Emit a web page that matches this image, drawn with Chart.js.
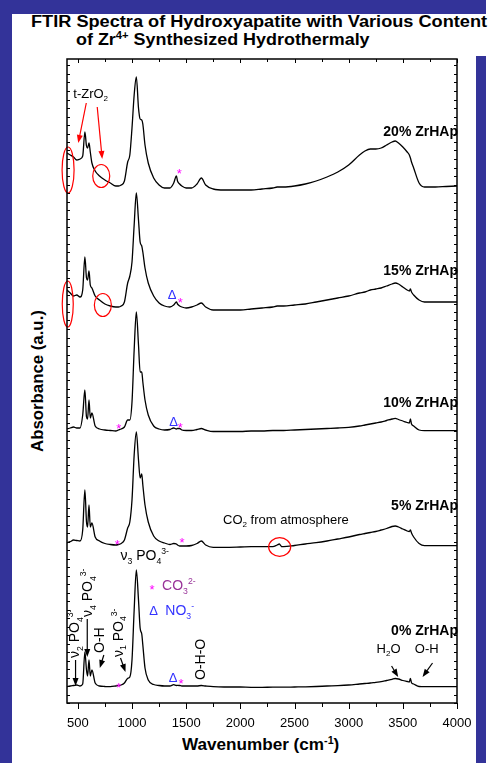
<!DOCTYPE html>
<html>
<head>
<meta charset="utf-8">
<script src="https://cdn.jsdelivr.net/npm/chart.js@4.4.0/dist/chart.umd.min.js"></script>
<style>
body{margin:0;background:#333399;width:490px;height:763px;overflow:hidden;position:relative;font-family:"Liberation Sans",Arial,sans-serif;}
#panel{position:absolute;left:12px;top:14px;width:464px;height:749px;background:#fff;}
#strip{position:absolute;left:486px;top:0;width:4px;height:763px;background:#fff;}
#titlebox{position:absolute;left:12px;top:14px;width:478px;height:42px;background:#fff;}
.t{position:absolute;font-weight:bold;color:#000;white-space:nowrap;transform-origin:0 0;}
#t1{left:31px;top:14px;font-size:16px;line-height:16px;transform:scaleX(1.135);}
#t2{left:76px;top:32px;font-size:16px;line-height:16px;transform:scaleX(1.12);}
#xt{left:182px;top:737px;font-size:16px;line-height:16px;transform:scaleX(1.07);}
#yt{left:30px;top:452px;font-size:16px;line-height:16px;transform:rotate(-90deg) scaleX(1.05);}
sup{font-size:10px;vertical-align:6px;line-height:0;}
canvas{position:absolute;left:0;top:0;}
</style>
</head>
<body>
<div id="panel"></div>
<div id="strip"></div>
<div id="titlebox"></div>
<div class="t" id="t1">FTIR Spectra of Hydroxyapatite with Various Content</div>
<div class="t" id="t2">of Zr<sup>4+</sup> Synthesized Hydrothermaly</div>
<div class="t" id="xt">Wavenumber (cm<sup>-1</sup>)</div>
<div class="t" id="yt">Absorbance (a.u.)</div>
<canvas id="ftir" width="490" height="763"></canvas>
<script>
// wavenumber grid (cm-1) shared by all spectra
var wavenumbers = [400,430,460,490,520,545,565,580,590,603,615,630,660,700,750,800,850,875,900,930,
  960,980,1000,1020,1040,1060,1075,1090,1100,1120,1150,1200,1250,1300,1350,1385,1410,1420,1440,1460,
  1500,1550,1600,1640,1680,1750,1850,2000,2100,2200,2300,2340,2360,2380,2400,2500,2600,2700,2800,2900,
  3000,3100,3150,3200,3250,3300,3350,3400,3430,3460,3500,3540,3560,3570,3580,3600,3650,3700,3800,3900,4000];

// stacked absorbance (a.u., offset per sample)
var zr0 = [16.3,17,17.5,18,17,19,51,33,27,43,27,33,20,17,16.5,16.3,17,17.5,18,20,
  24.7,26,43,93,133,103,75,69,58,35,23,18.5,17.5,17,17,18.3,17.5,17.7,17.5,17,
  17,17,17,17.5,17,16.3,16,16,15.7,15.7,15.8,15.8,15.8,15.8,15.8,16,16.2,16.5,17,17.4,
  18,19,19.5,20,20.7,21.3,22.5,23.7,24.5,24,22.5,21.5,21,24.7,20.3,19,16.5,16.3,16.3,16.3,16.3];
var zr5 = [160.3,161.3,163,162.5,162,173,213,181,176,198,176,180,166,162,159.5,158.5,158,158.5,159.5,163,
  175,181,203,248,271,243,225,229,218,198,181,167,162,160,158.5,159.5,159,158,157,157,
  157,157.5,159.5,162,158,155.7,155.7,156,156.3,156.3,156.3,158,159,156.5,156.3,157.5,159,160.3,162,164,
  166,168.5,169.5,170.5,171.5,173,174.5,176.5,177,176,174,172,171.5,173,170,166,159.5,157.3,157.3,157.3,157.3];
var zr10 = [274,275,276,275,275,288,313,286,284,303,285,290,277,274,273,272.5,272,273,274,276,
  283,283,301,353,391,358,331,331,321,303,288,277,274,273,273.5,275,274,274.5,274.5,273,
  272.5,272.5,273.5,274.5,273,271.5,271.5,271.5,272,272,272.5,272.5,272.5,272.5,272.5,273,273.5,274,274.5,275,
  275.7,277,278,279,280,281,282.5,284,284.7,283.5,282,280.5,280,284,279,277,273,272.3,272.3,272.3,272.3];
var zr15 = [413,410,407,408,406,413,446,425,423,432,418,415,407,403,399,397,396,396,397,401,
  420,427,441,478,510,483,461,457,451,435,420,407,400,397,396,398,401,399,397,396,
  395,396,398,400,396,393,393,393,394,395,396,397,397,397,397,398,399,401,403,405,
  407,410,411,413,414,415,417,419,420,419,416,413,412,414,411,408,403,401,401,401,401];
var zr20 = [550,548,546,543,544,547,571,557,555,560,551,540,532,527,523,520,517,517,518,522,
  541,548,575,608,626,595,584,583,579,558,540,525,518,515,515,520,527,522,519,517,
  515,515,519,525,518,514,513,513,513,514,515,516,516,516,516,517,519,522,526,531,
  538,548,552,554,554,555,558,561,562,560,556,551,548,545,541,535,520,516,516,516.5,517];

var sampleNames = ['0% ZrHAp','5% ZrHAp','10% ZrHAp','15% ZrHAp','20% ZrHAp'];
var xTickLabels = [500,1000,1500,2000,2500,3000,3500,4000];

var FONT = '"Liberation Sans", Arial, sans-serif';

function pts(vals){
  var out = [];
  for(var i = 0; i < wavenumbers.length; i++){
    out.push({x: wavenumbers[i], y: vals[i]});
  }
  return out;
}

// text with sub/superscripts: parts = [[text, 'n'|'b'|'p'], ...]  b = sub, p = sup
function rich(ctx, x, y, parts, size, color, weight, align){
  var total = 0, i, s;
  for(i = 0; i < parts.length; i++){
    s = parts[i][1] == 'n' ? size : size * 0.62;
    ctx.font = weight + ' ' + s + 'px ' + FONT;
    total += ctx.measureText(parts[i][0]).width;
  }
  var cx = x;
  if(align == 'right') cx = x - total;
  if(align == 'center') cx = x - total / 2;
  ctx.fillStyle = color;
  ctx.textAlign = 'left';
  ctx.textBaseline = 'alphabetic';
  var base = y + size * 0.36;
  for(i = 0; i < parts.length; i++){
    var kind = parts[i][1];
    s = kind == 'n' ? size : size * 0.62;
    ctx.font = weight + ' ' + s + 'px ' + FONT;
    var dy = kind == 'b' ? size * 0.28 : (kind == 'p' ? -size * 0.42 : 0);
    ctx.fillText(parts[i][0], cx, base + dy);
    cx += ctx.measureText(parts[i][0]).width;
  }
}

function arrow(ctx, x1, y1, x2, y2, color){
  var a = Math.atan2(y2 - y1, x2 - x1);
  ctx.strokeStyle = color;
  ctx.fillStyle = color;
  ctx.lineWidth = 1.2;
  ctx.beginPath();
  ctx.moveTo(x1, y1);
  ctx.lineTo(x2 - 5 * Math.cos(a), y2 - 5 * Math.sin(a));
  ctx.stroke();
  ctx.beginPath();
  ctx.moveTo(x2, y2);
  ctx.lineTo(x2 - 8 * Math.cos(a) + 3 * Math.sin(a), y2 - 8 * Math.sin(a) - 3 * Math.cos(a));
  ctx.lineTo(x2 - 8 * Math.cos(a) - 3 * Math.sin(a), y2 - 8 * Math.sin(a) + 3 * Math.cos(a));
  ctx.closePath();
  ctx.fill();
}

// frame + tick marks of the Origin style plot
var framePlugin = {
  id: 'frame',
  afterDraw: function(chart){
    var ctx = chart.ctx, a = chart.chartArea;
    var xs = chart.scales.x, ys = chart.scales.y;
    ctx.save();
    ctx.strokeStyle = '#000';
    ctx.lineWidth = 1;
    for(var w = 500; w <= 4000; w += 250){
      var px = Math.round(xs.getPixelForValue(w)) + 0.5;
      var big = w % 500 == 0;
      ctx.beginPath();
      ctx.moveTo(px, a.bottom); ctx.lineTo(px, a.bottom + (big ? 6 : 4));
      ctx.moveTo(px, a.top); ctx.lineTo(px, a.top + (big ? 4 : 3));
      ctx.stroke();
    }
    for(var v = 0; v <= ys.max; v += 8.5){
      var py = Math.round(ys.getPixelForValue(v)) + 0.5;
      ctx.beginPath();
      ctx.moveTo(a.left, py); ctx.lineTo(a.left + 3, py);
      ctx.moveTo(a.right, py); ctx.lineTo(a.right - 3, py);
      ctx.stroke();
    }
    ctx.lineWidth = 1.5;
    ctx.strokeRect(a.left, a.top, a.right - a.left, a.bottom - a.top);
    ctx.restore();
  }
};

var notesPlugin = {
  id: 'notes',
  afterDatasetsDraw: function(chart){
    var ctx = chart.ctx;
    var xs = chart.scales.x, ys = chart.scales.y;
    function X(w){ return xs.getPixelForValue(w); }
    function Y(v){ return ys.getPixelForValue(v); }
    ctx.save();

    // sample names
    var nameY = [73, 198, 301, 433, 572];
    for(var i = 0; i < sampleNames.length; i++){
      rich(ctx, X(4000) + 1, Y(nameY[i]), [[sampleNames[i], 'n']], 14, '#000', 'bold', 'right');
    }

    // t-ZrO2 marks
    rich(ctx, X(458), Y(610), [['t-ZrO', 'n'], ['2', 'b']], 13, '#000', 'normal', 'left');
    arrow(ctx, X(578), Y(600), X(504), Y(560), '#ff0000');
    arrow(ctx, X(679), Y(596), X(725), Y(544), '#ff0000');
    var rings = [[410, 533, 6, 23], [716, 527, 8.5, 11.5], [407, 399, 5.5, 23], [731, 398, 8.5, 11.5], [2363, 156, 11, 9.3]];
    ctx.strokeStyle = '#ff0000';
    ctx.lineWidth = 1.2;
    for(i = 0; i < rings.length; i++){
      ctx.beginPath();
      ctx.ellipse(X(rings[i][0]), Y(rings[i][1]), rings[i][2], rings[i][3], 0, 0, Math.PI * 2);
      ctx.stroke();
    }

    // carbonate / nitrate markers
    var stars = [[1437, 534], [1446, 405], [878, 279], [1446, 280], [863, 163], [1462, 165], [878, 20], [1453, 24], [1186, 118]];
    for(i = 0; i < stars.length; i++){
      rich(ctx, X(stars[i][0]), Y(stars[i][1]) + 4, [['*', 'n']], 13, '#ff00ff', 'normal', 'center');
    }
    var deltas = [[1370, 409], [1385, 282], [1379, 26], [1200, 93]];
    for(i = 0; i < deltas.length; i++){
      rich(ctx, X(deltas[i][0]), Y(deltas[i][1]), [['\u0394', 'n']], 13, '#3333ff', 'normal', 'center');
    }
    rich(ctx, X(1278), Y(118), [['CO', 'n'], ['3', 'b'], ['2-', 'p']], 14, '#993399', 'normal', 'left');
    rich(ctx, X(1308), Y(93), [['NO', 'n'], ['3', 'b'], ['-', 'p']], 14, '#3333ff', 'normal', 'left');

    // phosphate band labels
    rich(ctx, X(894), Y(148), [['\u03bd', 'n'], ['3', 'b'], [' PO', 'n'], ['4', 'b'], ['3-', 'p']], 14, '#000', 'normal', 'left');
    var vert = [
      [463, 45, [['\u03bd', 'n'], ['2', 'b'], [' PO', 'n'], ['4', 'b'], ['3-', 'p']]],
      [585, 86, [['\u03bd', 'n'], ['4', 'b'], [' PO', 'n'], ['4', 'b'], ['3-', 'p']]],
      [694, 50, [['O-H', 'n']]],
      [866, 46, [['\u03bd', 'n'], ['1', 'b'], [' PO', 'n'], ['4', 'b'], ['3-', 'p']]],
      [1630, 23, [['O-H-O', 'n']]]
    ];
    for(i = 0; i < vert.length; i++){
      ctx.save();
      ctx.translate(X(vert[i][0]), Y(vert[i][1]));
      ctx.rotate(-Math.PI / 2);
      rich(ctx, 0, 0, vert[i][2], 14, '#000', 'normal', 'left');
      ctx.restore();
    }
    arrow(ctx, X(479), Y(43), X(479), Y(17), '#000');
    arrow(ctx, X(587), Y(84), X(587), Y(46), '#000');
    arrow(ctx, X(740), Y(48), X(703), Y(35), '#000');
    arrow(ctx, X(894), Y(45), X(940), Y(31), '#000');

    // hydroxyl region
    rich(ctx, X(3258), Y(55), [['H', 'n'], ['2', 'b'], ['O', 'n']], 13, '#000', 'normal', 'left');
    rich(ctx, X(3611), Y(55), [['O-H', 'n']], 13, '#000', 'normal', 'left');
    arrow(ctx, X(3396), Y(37), X(3457), Y(26), '#000');
    arrow(ctx, X(3774), Y(40), X(3682), Y(26), '#000');

    rich(ctx, X(1840), Y(184), [['CO', 'n'], ['2', 'b'], [' from atmosphere', 'n']], 13, '#000', 'normal', 'left');
    ctx.restore();
  }
};

var series = [zr0, zr5, zr10, zr15, zr20];
var sets = [];
for(var s = 0; s < series.length; s++){
  sets.push({
    label: sampleNames[s],
    data: pts(series[s]),
    borderColor: '#000',
    borderWidth: 1.3,
    pointRadius: 0,
    fill: false,
    cubicInterpolationMode: 'monotone'
  });
}

var chart = new Chart(document.getElementById('ftir'), {
  type: 'line',
  data: { datasets: sets },
  plugins: [notesPlugin, framePlugin],
  options: {
    responsive: false,
    animation: false,
    devicePixelRatio: 1,
    layout: { padding: { top: 59, right: 33, left: 0, bottom: 0 } },
    plugins: { legend: { display: false }, tooltip: { enabled: false }, title: { display: false } },
    scales: {
      x: {
        type: 'linear',
        min: 400,
        max: 4000,
        afterFit: function(sc){ sc.height = 60; },
        afterBuildTicks: function(sc){
          sc.ticks = xTickLabels.map(function(v){ return { value: v }; });
        },
        grid: { display: false, drawTicks: false },
        border: { display: false },
        ticks: {
          color: '#000',
          font: { family: FONT, size: 13 },
          padding: 13,
          maxRotation: 0,
          autoSkip: false,
          callback: function(v){ return String(v); }
        }
      },
      y: {
        min: 0,
        max: 644,
        afterFit: function(sc){ sc.width = 67; },
        grid: { display: false, drawTicks: false },
        border: { display: false },
        ticks: { display: false }
      }
    }
  }
});
</script>
</body>
</html>
